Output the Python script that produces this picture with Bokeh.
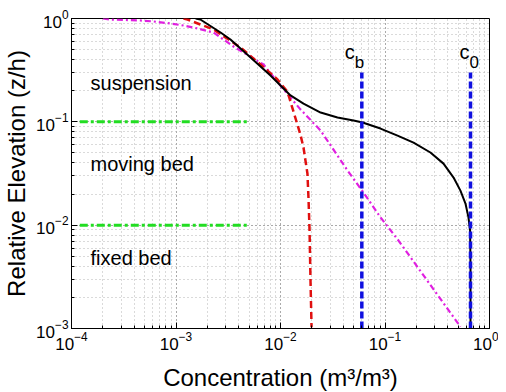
from bokeh.plotting import figure
from bokeh.models import ColumnDataSource
from bokeh.embed import file_html
from bokeh.resources import INLINE
from bokeh.core.properties import value

FONT = "Liberation Sans"

# black solid profile
black_c = [1.54e-3, 1.71e-3, 2.67e-3, 3.32e-3, 5.17e-3, 8.02e-3, 0.0100, 0.01247,
           0.0166, 0.0242, 0.0351, 0.0500, 0.0610, 0.0906, 0.1318, 0.1875,
           0.272, 0.363, 0.453, 0.527, 0.589, 0.629, 0.652, 0.658, 0.658]
black_z = [1.0, 0.978, 0.732, 0.626, 0.419, 0.281, 0.225, 0.180,
           0.150, 0.123, 0.110, 0.103, 0.0985, 0.0861, 0.0736, 0.0630,
           0.0505, 0.0394, 0.0289, 0.0216, 0.0162, 0.0119, 0.0089, 0.004, 0.001]

# red dashed profile
red_c = [1.18e-3, 1.29e-3, 1.71e-3, 2.29e-3, 4.14e-3, 6.44e-3, 9.35e-3, 0.01167,
         0.0133, 0.0155, 0.0166, 0.0181, 0.01853, 0.01897, 0.01937, 0.01982]
red_z = [1.0, 0.978, 0.875, 0.782, 0.524, 0.359, 0.257, 0.195,
         0.126, 0.0755, 0.0564, 0.0316, 0.0183, 0.0089, 0.0029, 0.00103]

# magenta dash-dot profile
mag_c = [2.0e-4, 2.36e-4, 4.57e-4, 6.10e-4, 8.85e-4, 1.18e-3, 1.61e-3, 2.29e-3,
         3.55e-3, 6.87e-3, 0.0107, 0.0155, 0.0242, 0.0438, 0.0622, 0.0906, 0.1346, 0.527]
mag_z = [1.0, 0.978, 0.957, 0.936, 0.895, 0.855, 0.80, 0.73,
         0.536, 0.359, 0.206, 0.132, 0.0824, 0.0338, 0.0207, 0.0119, 0.0071, 0.00104]

# vertical reference concentrations c_b and c_0
ref_c = [0.06, 0.658]
ref_z_bottom = 0.001
ref_z_top = 0.30

# horizontal layer boundaries
bound_z = [0.1, 0.01]
bound_c = [1.2e-4, 5.0e-3]

p = figure(width=490, height=376, frame_width=418, frame_height=310,
           x_axis_type="log", y_axis_type="log",
           x_range=(1e-4, 1e0), y_range=(1e-3, 1e0),
           output_backend="svg", toolbar_location=None,
           min_border_left=63, min_border_right=9, min_border_top=18, min_border_bottom=48)

p.outline_line_color = "black"
p.outline_line_width = 1

for ax in (p.xaxis[0], p.yaxis[0]):
    ax.major_tick_in = 6
    ax.major_tick_out = 0
    ax.minor_tick_in = 3
    ax.minor_tick_out = 0
    ax.major_label_text_font = FONT
    ax.major_label_text_font_size = "17px"
    ax.major_label_text_color = "black"
    ax.axis_label_text_font = FONT
    ax.axis_label_text_font_size = "24px"
    ax.axis_label_text_font_style = "normal"
    ax.axis_label_text_color = "black"
    ax.axis_line_color = "black"
    ax.major_label_standoff = 3

p.xaxis[0].axis_label_standoff = 11
p.yaxis[0].axis_label_standoff = 3

p.xaxis.axis_label = "Concentration (m³/m³)"
p.yaxis.axis_label = "Relative Elevation (z/h)"

for g in (p.xgrid[0], p.ygrid[0]):
    g.grid_line_color = "#8c8c8c"
    g.grid_line_dash = "1 3"
    g.grid_line_width = 1
    g.minor_grid_line_color = "#b4b4b4"
    g.minor_grid_line_dash = "1 3"
    g.minor_grid_line_width = 1

# green boundaries
for zb in bound_z:
    p.line(bound_c, [zb, zb], line_color="#22dd22", line_width=3, line_dash="8 3 3 3")

# profiles
p.line(mag_c, mag_z, line_color="#e020e0", line_width=2.2, line_dash="6 3 2 3")
p.line(red_c, red_z, line_color="#e01010", line_width=2.5, line_dash="7 4")
p.line(black_c, black_z, line_color="black", line_width=2)

# vertical reference lines
for cr in ref_c:
    p.line([cr, cr], [ref_z_bottom, ref_z_top], line_color="#1010e0", line_width=3.5, line_dash="7 3")

# labels
p.text(x=[1.52e-4, 1.52e-4, 1.52e-4], y=[0.24, 0.0395, 0.00485],
       text=["suspension", "moving bed", "fixed bed"],
       text_font=value(FONT), text_font_size="20px", text_color="black",
       text_align="left", text_baseline="middle")

src = ColumnDataSource(dict(x=ref_c, xo=[-7, -1], y=[0.469, 0.469], sub=["b", "0"]))
p.text(x="x", y="y", x_offset="xo", text=value("c"), source=src,
       text_font=value(FONT), text_font_size="20px", text_color="black",
       text_align="right", text_baseline="alphabetic")
p.text(x="x", y="y", x_offset="xo", y_offset=10, text="sub", source=src,
       text_font=value(FONT), text_font_size="17px", text_color="black",
       text_align="left", text_baseline="alphabetic")

open("out.html", "w").write(file_html(p, INLINE))
